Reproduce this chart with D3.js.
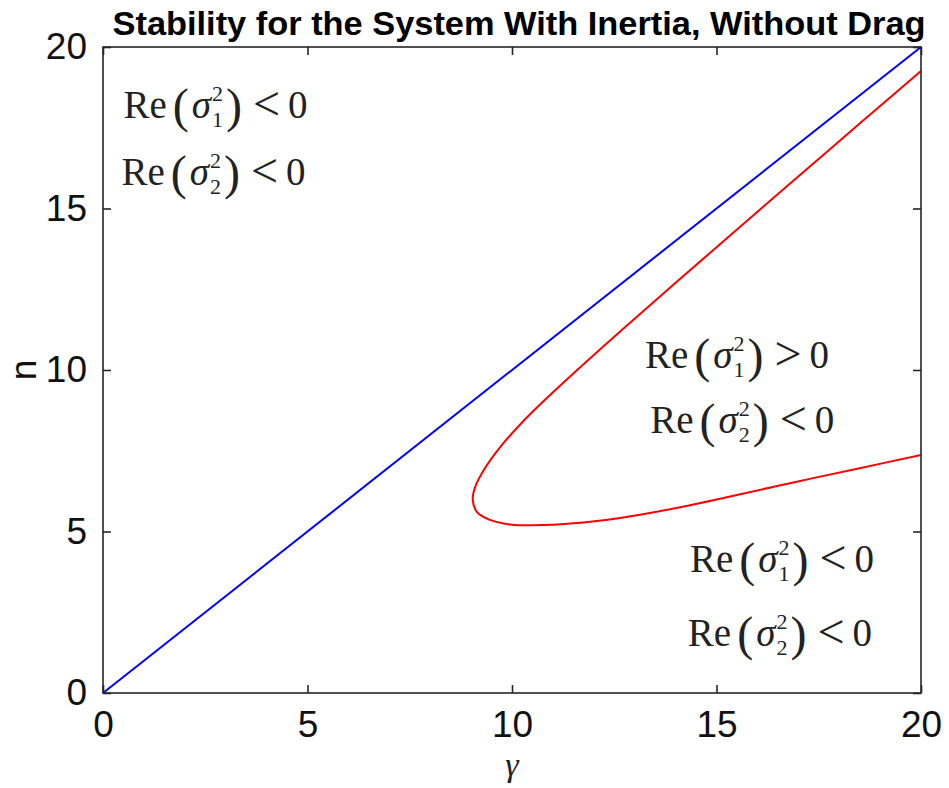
<!DOCTYPE html>
<html>
<head>
<meta charset="utf-8">
<script src="https://cdn.jsdelivr.net/npm/d3@7"></script>
<style>
  html, body { margin: 0; padding: 0; background: #fff; }
  svg { display: block; }
</style>
</head>
<body>
<svg id="chart" width="949" height="788"></svg>
<script>
// ---- data ----
const gammaTicks = [0, 5, 10, 15, 20];
const nTicks = [0, 5, 10, 15, 20];
const blueGamma = [0, 20];
const blueN = [0, 20];
const redGamma = [20, 18.5, 16.87, 15.5, 14, 12.72, 11.6, 10.8, 10.28, 9.71, 9.30, 9.10, 9.04, 9.14, 9.46, 9.95, 10.52, 11.58, 12.64, 13.54, 15.25, 16.88, 18.5, 20];
const redN     = [19.26, 17.63, 15.85, 14.35, 12.70, 11.28, 10.01, 9.07, 8.42, 7.61, 6.88, 6.38, 5.98, 5.61, 5.36, 5.22, 5.19, 5.26, 5.42, 5.61, 6.06, 6.52, 6.96, 7.37];
const titleText = "Stability for the System With Inertia, Without Drag";
const xLabel = "γ";
const yLabel = "n";
const regionLabels = [
  { gx: 0.5,  gn: 17.8, sub: "1", rel: "<" },
  { gx: 0.45, gn: 15.73, sub: "2", rel: "<" },
  { gx: 13.25, gn: 10.05, sub: "1", rel: ">" },
  { gx: 13.38, gn: 8.05, sub: "2", rel: "<" },
  { gx: 14.35, gn: 3.76, sub: "1", rel: "<" },
  { gx: 14.3, gn: 1.45, sub: "2", rel: "<" }
];

// ---- layout ----
const svg = d3.select("#chart");
const L = 103, R = 921, T = 47, B = 693;
const x = d3.scaleLinear().domain([0, 20]).range([L, R]);
const y = d3.scaleLinear().domain([0, 20]).range([B, T]);
const axisColor = "#262626";
const tickLen = 8;

// lines
const line = d3.line().x(d => x(d[0])).y(d => y(d[1])).curve(d3.curveCatmullRom.alpha(0.5));
svg.append("path")
  .attr("d", d3.line().x(d => x(d[0])).y(d => y(d[1]))(blueGamma.map((g, i) => [g, blueN[i]])))
  .attr("fill", "none").attr("stroke", "#0000ff").attr("stroke-width", 2);
svg.append("path")
  .attr("d", line(redGamma.map((g, i) => [g, redN[i]])))
  .attr("fill", "none").attr("stroke", "#ff0000").attr("stroke-width", 2);

// axes
const fontSans = "'Liberation Sans', Arial, Helvetica, sans-serif";
const bottomAxis = d3.axisBottom(x).tickValues(gammaTicks).tickSize(-tickLen).tickPadding(18).tickFormat(d3.format("d"));
const topAxis = d3.axisTop(x).tickValues(gammaTicks).tickSize(-tickLen).tickFormat("");
const leftAxis = d3.axisLeft(y).tickValues(nTicks).tickSize(-tickLen).tickPadding(16).tickFormat(d3.format("d"));
const rightAxis = d3.axisRight(y).tickValues(nTicks).tickSize(-tickLen).tickFormat("");

function styleAxis(g) {
  g.selectAll("path.domain").attr("stroke", axisColor).attr("stroke-width", 1.6);
  g.selectAll(".tick line").attr("stroke", axisColor).attr("stroke-width", 1.6);
  g.selectAll(".tick text").attr("fill", "#111").style("font-family", fontSans).style("font-size", "37px");
}
svg.append("g").attr("transform", `translate(0,${B})`).call(bottomAxis).call(styleAxis);
svg.append("g").attr("transform", `translate(0,${T})`).call(topAxis).call(styleAxis);
svg.append("g").attr("transform", `translate(${L},0)`).call(leftAxis).call(styleAxis);
svg.append("g").attr("transform", `translate(${R},0)`).call(rightAxis).call(styleAxis);
svg.selectAll(".domain").attr("d", null);
svg.append("rect").attr("x", L).attr("y", T).attr("width", R - L).attr("height", B - T)
  .attr("fill", "none").attr("stroke", axisColor).attr("stroke-width", 1.6);

// title
svg.append("text").attr("x", 519).attr("y", 35).attr("text-anchor", "middle")
  .style("font-family", fontSans).style("font-weight", "bold").style("font-size", "33px")
  .attr("textLength", 813).attr("lengthAdjust", "spacingAndGlyphs")
  .attr("fill", "#000").text(titleText);

// axis labels
svg.append("text").attr("transform", `translate(36,${(T + B) / 2}) rotate(-90)`)
  .attr("text-anchor", "middle").style("font-family", fontSans).style("font-size", "37px")
  .attr("fill", "#111").text(yLabel);
svg.append("text").attr("x", (L + R) / 2).attr("y", 776).attr("text-anchor", "middle")
  .style("font-family", "'Liberation Serif', 'Times New Roman', serif").style("font-style", "italic")
  .style("font-size", "34px").attr("fill", "#222").text(xLabel);

// region labels (math-like)
const serif = "'Liberation Serif', 'Times New Roman', serif";
function drawExpr(px, py, sub, rel) {
  const g = svg.append("g").attr("fill", "#222").style("font-family", serif);
  let cx = px;
  function put(txt, size, dx, dy, italic) {
    const t = g.append("text").attr("x", cx + dx).attr("y", py + dy)
      .style("font-size", size + "px").text(txt);
    if (italic) t.style("font-style", "italic");
    return t.node().getComputedTextLength();
  }
  cx += put("Re", 39, 0, 0) + 6;
  cx += put("(", 48, 0, 4) + 3;
  cx += put("σ", 39, 0, 0, true) + 1;
  const w1 = put("2", 22, 0, -17);
  const w2 = put(sub, 22, 0, 9);
  cx += Math.max(w1, w2) + 3;
  cx += put(")", 48, 0, 4) + 11;
  cx += put(rel, 48, 0, 2) + 8;
  put("0", 39, 0, 0);
}
regionLabels.forEach(r => drawExpr(x(r.gx), y(r.gn), r.sub, r.rel));
</script>
</body>
</html>
